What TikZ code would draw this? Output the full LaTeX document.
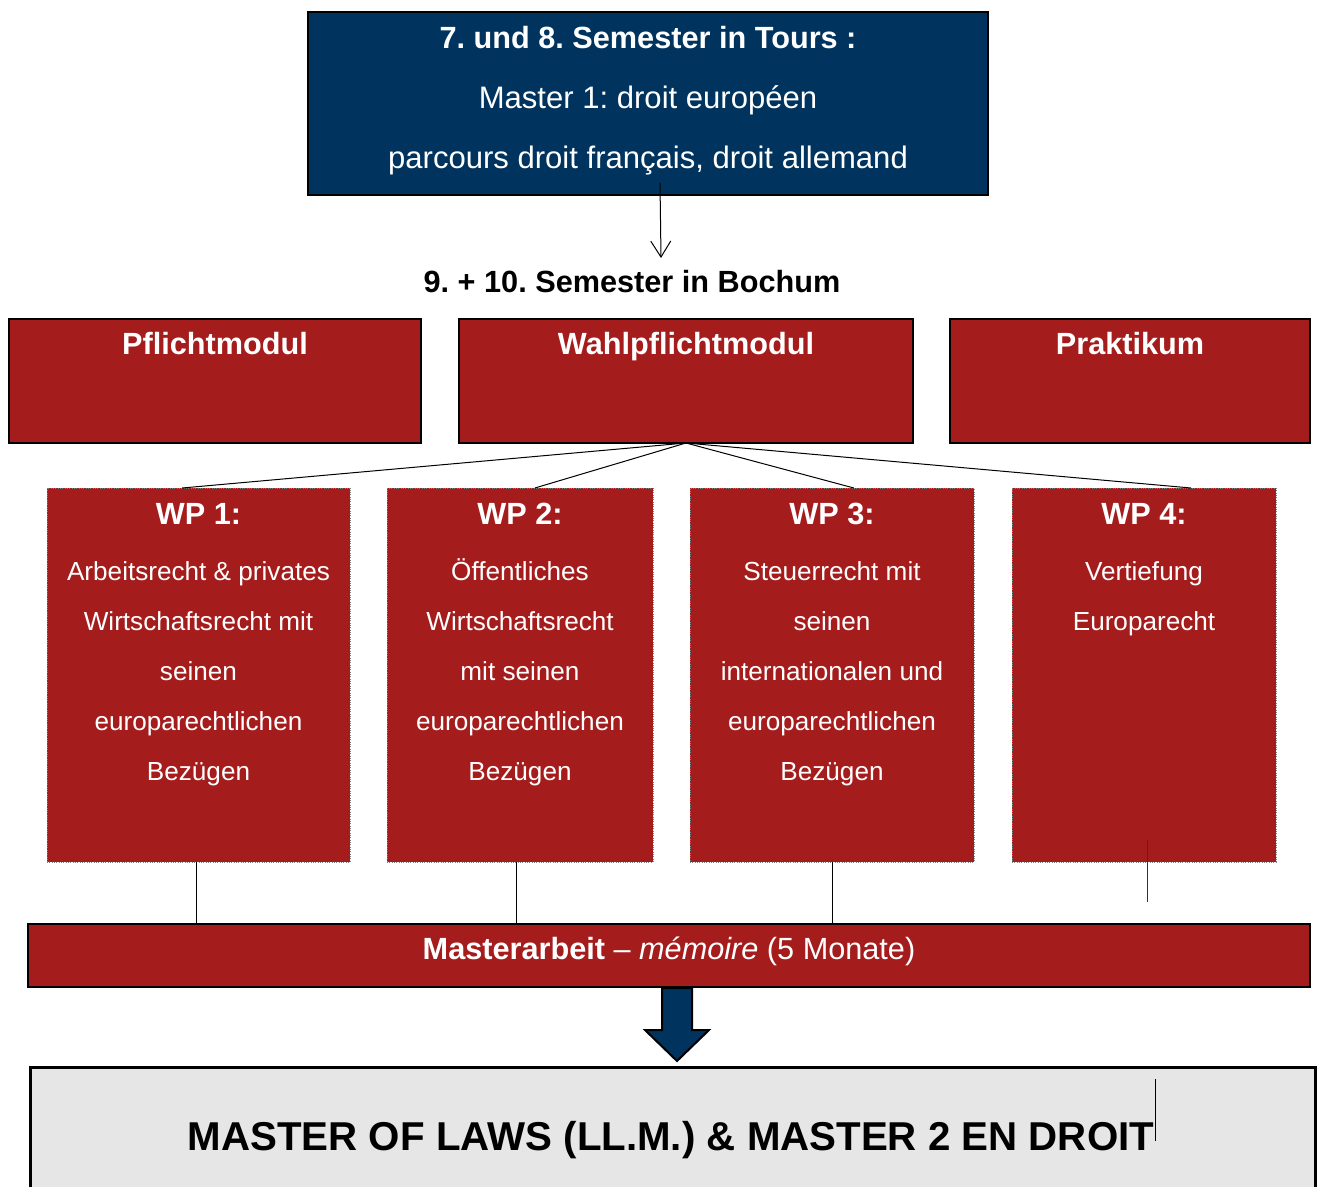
\documentclass[tikz,border=0pt]{standalone}
\usepackage{fontspec}
\setmainfont{Liberation Sans}
\usetikzlibrary{arrows.meta,calc}
\definecolor{navy}{RGB}{0,52,94}
\definecolor{brick}{RGB}{165,28,28}
\definecolor{lgray}{RGB}{230,230,230}
\frenchspacing
\begin{document}
\begin{tikzpicture}[x=0.75pt,y=-0.75pt,
  box/.style={rectangle, inner sep=0, outer sep=0, draw=black, line width=1.5pt, fill=brick},
  wpbox/.style={rectangle, inner sep=0, outer sep=0, draw=gray, densely dotted, line width=0.75pt, fill=brick},
  hd/.style={anchor=base, inner sep=0, text=white, font=\fontsize{23}{27}\selectfont\bfseries},
  tx/.style={anchor=base, inner sep=0, text=white, font=\fontsize{19.6}{23}\selectfont},
  conn/.style={draw=black, line width=0.75pt}]
\useasboundingbox (0,0) rectangle (1319,1187);
\clip (0,0) rectangle (1319,1187);

% top box
\node[box, fill=navy, minimum width={680*0.75pt}, minimum height={183*0.75pt}] (tours) at (648,103.5) {};
\node[hd] (toursT) at (648,49) {7. und 8. Semester in Tours :};
\node[tx, font=\fontsize{23.3}{27}\selectfont] (toursA) at (648,109) {Master 1: droit européen};
\node[tx, font=\fontsize{23.3}{27}\selectfont] (toursB) at (648,169) {parcours droit français, droit allemand};

% arrow to Bochum
\coordinate (a1) at (660,183);
\coordinate (a2) at (661,258);
\draw[conn, -{Straight Barb[length=12pt,width=15pt]}] (a1) -- (a2);
\node[hd, text=black] (bochum) at (632,292) {9. + 10. Semester in Bochum};

% module boxes
\node[box, minimum width={412*0.75pt}, minimum height={124*0.75pt}] (pflicht) at (215,381) {};
\node[box, minimum width={454*0.75pt}, minimum height={124*0.75pt}] (wahl) at (686,381) {};
\node[box, minimum width={360*0.75pt}, minimum height={124*0.75pt}] (prak) at (1130,381) {};
\node[hd] (pflichtT) at (215,354) {Pflichtmodul};
\node[hd] (wahlT) at (686,354) {Wahlpflichtmodul};
\node[hd] (prakT) at (1130,354) {Praktikum};

% WP boxes
\node[wpbox, minimum width={303*0.75pt}, minimum height={374*0.75pt}] (wp1) at (198.5,675) {};
\node[wpbox, minimum width={266*0.75pt}, minimum height={374*0.75pt}] (wp2) at (520,675) {};
\node[wpbox, minimum width={284*0.75pt}, minimum height={374*0.75pt}] (wp3) at (832,675) {};
\node[wpbox, minimum width={264*0.75pt}, minimum height={374*0.75pt}] (wp4) at (1144,675) {};

\node[hd] (wp1T) at (198.5,524) {WP 1:};
\node[hd] (wp2T) at (520,524) {WP 2:};
\node[hd] (wp3T) at (832,524) {WP 3:};
\node[hd] (wp4T) at (1144,524) {WP 4:};
\foreach \t [count=\i] in {Arbeitsrecht \& privates, Wirtschaftsrecht mit, seinen, europarechtlichen, Bezügen}
  \node[tx] (wp1l\i) at (198.5,530+50*\i) {\t};
\foreach \t [count=\i] in {Öffentliches, Wirtschaftsrecht, mit seinen, europarechtlichen, Bezügen}
  \node[tx] (wp2l\i) at (520,530+50*\i) {\t};
\foreach \t [count=\i] in {Steuerrecht mit, seinen, internationalen und, europarechtlichen, Bezügen}
  \node[tx] (wp3l\i) at (832,530+50*\i) {\t};
\foreach \t [count=\i] in {Vertiefung, Europarecht}
  \node[tx] (wp4l\i) at (1144,530+50*\i) {\t};

% connectors from Wahlpflichtmodul
\draw[conn] (wahl.south) -- ($(wp1.north west)!0.446!(wp1.north east)$);
\draw[conn] (wahl.south) -- ($(wp2.north west)!0.556!(wp2.north east)$);
\draw[conn] (wahl.south) -- ($(wp3.north west)!0.577!(wp3.north east)$);
\draw[conn] (wahl.south) -- ($(wp4.north west)!0.678!(wp4.north east)$);

% Masterarbeit
\node[box, minimum width={1282*0.75pt}, minimum height={63*0.75pt}] (mast) at (669,955.5) {};
\node[tx, font=\fontsize{23}{27}\selectfont] (mastT) at (669,959) {\textbf{Masterarbeit} – \textit{mémoire} (5 Monate)};

% vertical connectors
\coordinate (v1) at ($(wp1.south west)!0.492!(wp1.south east)$);
\coordinate (v2) at ($(wp2.south west)!0.485!(wp2.south east)$);
\coordinate (v3) at (wp3.south);
\draw[conn] (v1) -- (v1 |- mast.north);
\draw[conn] (v2) -- (v2 |- mast.north);
\draw[conn] (v3) -- (v3 |- mast.north);
\coordinate (s1) at (1147,840);
\coordinate (s2) at (1147,902);
\draw[conn, draw=black!80] (s1) -- (s2);

% final box
\node[rectangle, inner sep=0, draw=black, line width=2.25pt, fill=lgray, minimum width={1285*0.75pt}, minimum height={128*0.75pt}] (final) at (672.5,1131) {};
\node[hd, text=black, font=\fontsize{30.2}{34}\selectfont\bfseries] (finalT) at (671,1150) {MASTER OF LAWS (LL.M.) \& MASTER 2 EN DROIT};
\coordinate (c1) at (1155,1079);
\coordinate (c2) at (1155,1141);
\draw[conn] (c1) -- (c2);

% block arrow
\draw[fill=navy, draw=black, line width=1.5pt, line join=miter]
  (662,988) -- (692,988) -- (692,1030) -- (709,1030) -- (677,1061) -- (645,1030) -- (662,1030) -- cycle;
\end{tikzpicture}
\end{document}
